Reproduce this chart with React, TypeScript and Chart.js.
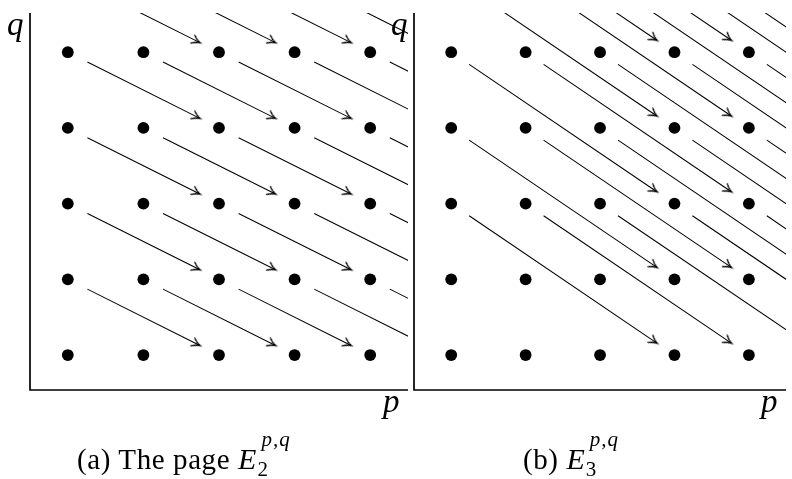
import React, { useEffect, useRef } from 'react';
import { Chart, registerables } from 'chart.js';

Chart.register(...registerables);

// ---- data ----
const P_VALUES = [0, 1, 2, 3, 4];
const Q_VALUES = [0, 1, 2, 3, 4];

// page E2: differential d2 of bidegree (2, -1)
const PAGE_A_ARROW_P = [0, 1, 2, 3, 4];
const PAGE_A_ARROW_Q = [1, 2, 3, 4, 5];
const PAGE_A_DIFF = [2, -1];

// page E3: differential d3 of bidegree (3, -2)
const PAGE_B_ARROW_P = [0, 1, 2, 3, 4];
const PAGE_B_ARROW_Q = [2, 3, 4, 5, 6];
const PAGE_B_DIFF = [3, -2];

const X_RANGE = [-0.5, 4.5];
const Y_RANGE = [-0.462, 4.518];
const AXIS_LABELS = { x: 'p', y: 'q' };

// ---- style ----
const GAP = 0.29; // arrow shortening at each end, in grid units
const FONT = '"Liberation Serif", "Times New Roman", serif';

function makeArrowHead(): HTMLCanvasElement {
  const c = document.createElement('canvas');
  c.width = 24;
  c.height = 24;
  const g = c.getContext('2d')!;
  g.translate(12, 12);
  g.strokeStyle = '#000';
  g.lineWidth = 1.35;
  g.lineCap = 'round';
  g.lineJoin = 'miter';
  g.beginPath();
  g.moveTo(-7.2, -4.3);
  g.quadraticCurveTo(-2.8, -0.7, 0.4, 0);
  g.quadraticCurveTo(-2.8, 0.7, -7.2, 4.3);
  g.stroke();
  return c;
}

const axesPlugin = {
  id: 'ssAxes',
  afterDatasetsDraw(chart: any) {
    const { ctx, chartArea: a } = chart;
    ctx.save();
    ctx.strokeStyle = '#000';
    ctx.lineWidth = 1.7;
    ctx.lineJoin = 'miter';
    ctx.beginPath();
    ctx.moveTo(a.left, a.top);
    ctx.lineTo(a.left, a.bottom);
    ctx.lineTo(a.right, a.bottom);
    ctx.stroke();
    ctx.fillStyle = '#000';
    ctx.font = `italic 33px ${FONT}`;
    ctx.textBaseline = 'alphabetic';
    ctx.textAlign = 'left';
    ctx.fillText(AXIS_LABELS.y, a.left - 23, a.top + 22);
    ctx.fillText(AXIS_LABELS.x, a.right - 25, a.bottom + 22);
    ctx.restore();
  },
};

function buildConfig(
  arrowP: number[],
  arrowQ: number[],
  diff: number[],
  padLeft: number,
  padRight: number,
  head: HTMLCanvasElement
): any {
  const dots: { x: number; y: number }[] = [];
  for (const q of Q_VALUES) for (const p of P_VALUES) dots.push({ x: p, y: q });

  const [dp, dq] = diff;
  const len = Math.hypot(dp, dq);
  const ux = dp / len;
  const uy = dq / len;
  const rot = (Math.atan2(-dq, dp) * 180) / Math.PI;

  const arrowSets: any[] = [];
  for (const q of arrowQ) {
    for (const p of arrowP) {
      arrowSets.push({
        type: 'scatter',
        showLine: true,
        data: [
          { x: p + ux * GAP, y: q + uy * GAP },
          { x: p + dp - ux * GAP, y: q + dq - uy * GAP },
        ],
        borderColor: '#000',
        borderWidth: 1.05,
        tension: 0,
        pointRadius: [0, 1],
        pointStyle: head,
        pointRotation: rot,
        pointBorderWidth: 0,
        pointBackgroundColor: '#000',
      });
    }
  }

  return {
    type: 'scatter',
    data: {
      datasets: [
        {
          data: dots,
          showLine: false,
          pointRadius: 5.9,
          pointBorderWidth: 0,
          pointBackgroundColor: '#000',
          pointStyle: 'circle',
        },
        ...arrowSets,
      ],
    },
    options: {
      animation: false,
      responsive: false,
      events: [],
      layout: { padding: { left: padLeft, right: padRight, top: 13, bottom: 89 } },
      scales: {
        x: { type: 'linear', min: X_RANGE[0], max: X_RANGE[1], display: false },
        y: { type: 'linear', min: Y_RANGE[0], max: Y_RANGE[1], display: false },
      },
      plugins: { legend: { display: false }, tooltip: { enabled: false } },
    },
    plugins: [axesPlugin],
  };
}

const canvasStyle: React.CSSProperties = {
  position: 'absolute',
  left: 0,
  top: 0,
  width: 792,
  height: 479,
};

function Caption(props: { left: number; label: string; sub: string }) {
  return (
    <div
      style={{
        position: 'absolute',
        left: props.left,
        top: 444,
        fontFamily: FONT,
        fontSize: 29,
        lineHeight: '29px',
        letterSpacing: '0.6px',
        whiteSpace: 'nowrap',
        color: '#000',
      }}
    >
      {props.label}
      <i style={{ letterSpacing: 0, fontSize: 30 }}>E</i>
      <span style={{ position: 'relative', letterSpacing: 0 }}>
        <span
          style={{
            position: 'absolute',
            left: 5,
            top: -14,
            fontSize: 21,
            lineHeight: '21px',
            letterSpacing: '1px',
            fontStyle: 'italic',
            whiteSpace: 'nowrap',
          }}
        >
          p,q
        </span>
        <span
          style={{
            position: 'absolute',
            left: 1,
            top: 16,
            fontSize: 21,
            lineHeight: '21px',
          }}
        >
          {props.sub}
        </span>
      </span>
    </div>
  );
}

export default function App() {
  const refA = useRef<HTMLCanvasElement>(null);
  const refB = useRef<HTMLCanvasElement>(null);

  useEffect(() => {
    const head = makeArrowHead();
    const a = new Chart(
      refA.current!,
      buildConfig(PAGE_A_ARROW_P, PAGE_A_ARROW_Q, PAGE_A_DIFF, 30, 384, head)
    );
    const b = new Chart(
      refB.current!,
      buildConfig(PAGE_B_ARROW_P, PAGE_B_ARROW_Q, PAGE_B_DIFF, 414, 0, head)
    );
    return () => {
      a.destroy();
      b.destroy();
    };
  }, []);

  return (
    <div
      style={{
        position: 'fixed',
        left: 0,
        top: 0,
        width: 792,
        height: 479,
        background: '#fff',
        overflow: 'hidden',
      }}
    >
      <canvas ref={refA} width={792} height={479} style={canvasStyle} />
      <canvas ref={refB} width={792} height={479} style={canvasStyle} />
      <Caption left={77} label="(a) The page " sub="2" />
      <Caption left={523} label="(b) " sub="3" />
    </div>
  );
}
